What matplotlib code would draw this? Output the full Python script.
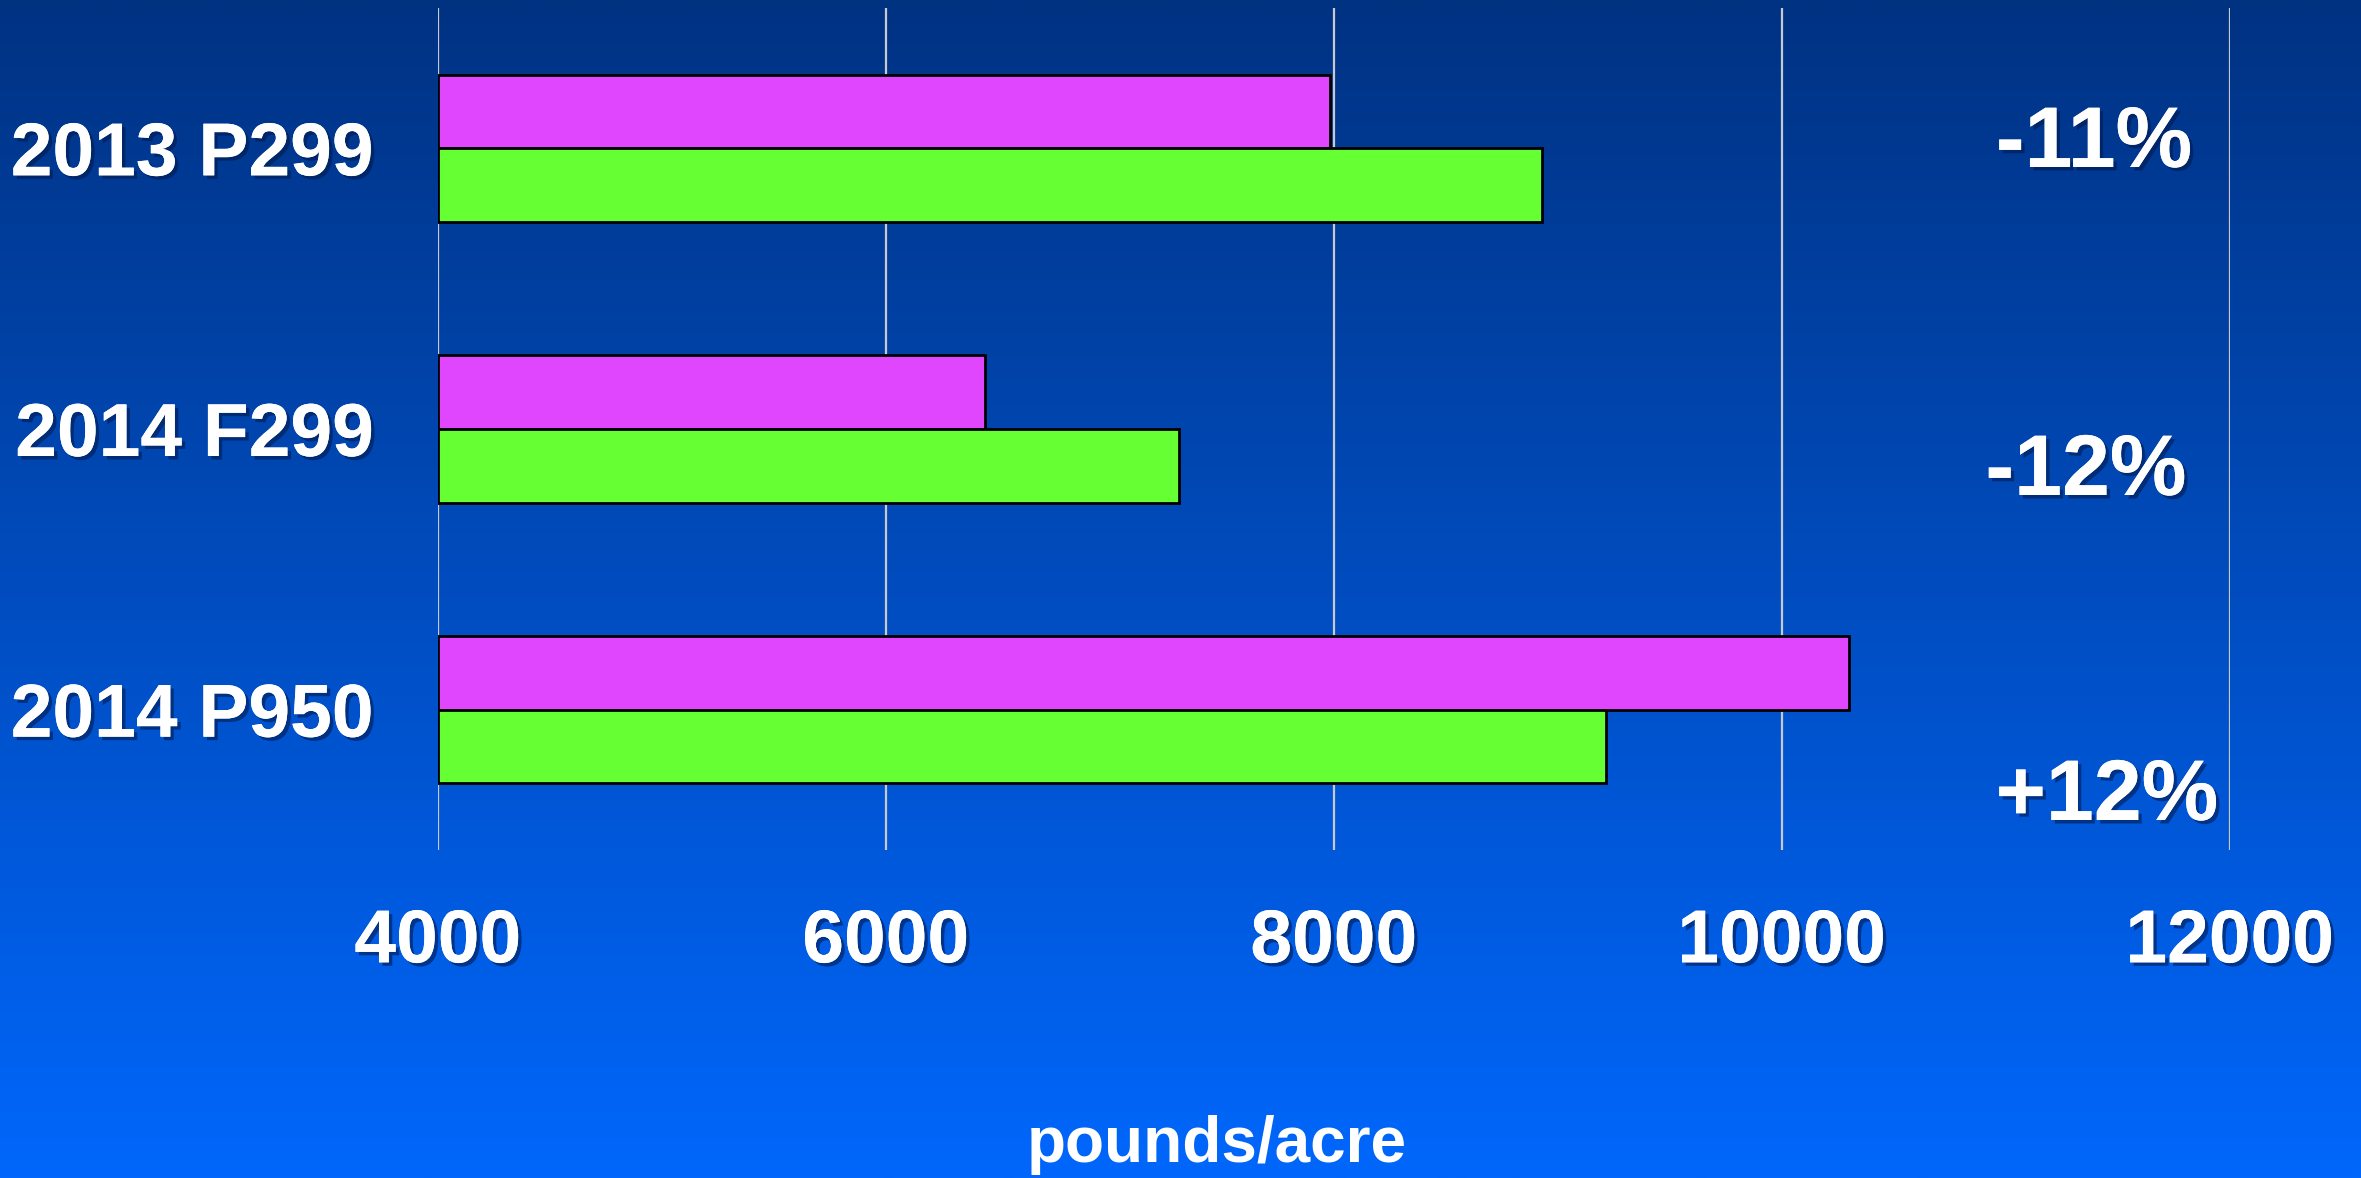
import numpy as np
import matplotlib
matplotlib.use("Agg")
import matplotlib.pyplot as plt
import matplotlib.patheffects as pe

# ---- data ----
categories = ["2013 P299", "2014 F299", "2014 P950"]
series_a = [7980, 6440, 10300]   # magenta
series_b = [8930, 7310, 9215]    # green
changes = ["-11%", "-12%", "+12%"]
xticks = [4000, 6000, 8000, 10000, 12000]
xlabel = "pounds/acre"

W, H = 2361, 1178
fig = plt.figure(figsize=(W / 100, H / 100), dpi=100)

# background gradient
bg = fig.add_axes([0, 0, 1, 1], zorder=-10)
top = np.array([0, 50, 130]) / 255.0
bot = np.array([0, 103, 252]) / 255.0
t = np.linspace(0, 1, 512)[:, None]
grad = (top[None, :] * (1 - t) + bot[None, :] * t)[:, None, :]
bg.imshow(grad, aspect="auto", extent=[0, 1, 0, 1], origin="upper")
bg.set_axis_off()

left, right = 438 / W, 2230 / W
ytop, ybot = 1 - 8 / H, 1 - 850 / H
ax = fig.add_axes([left, ybot, right - left, ytop - ybot])
ax.patch.set_alpha(0)

y = np.arange(len(categories))
h = 0.263
ax.barh(y - h / 2, [a - xticks[0] for a in series_a], left=xticks[0], height=h,
        color="#E146FF", edgecolor="black", linewidth=2, zorder=3)
ax.barh(y + h / 2, [b - xticks[0] for b in series_b], left=xticks[0], height=h,
        color="#66FF33", edgecolor="black", linewidth=2, zorder=3)

ax.set_xlim(xticks[0], xticks[-1])
ax.set_ylim(len(categories) - 0.5, -0.5)
for s in ax.spines.values():
    s.set_visible(False)
ax.set_xticks(xticks)
ax.xaxis.grid(True, color="#C8C8D0", linewidth=1.6, zorder=0)
ax.set_axisbelow(True)

shadow = [pe.withSimplePatchShadow(offset=(2.5, -2.5), shadow_rgbFace="#001a50", alpha=0.6), pe.Normal()]

ax.set_xticklabels([str(v) for v in xticks], fontsize=54, fontweight="bold",
                   color="white", family="Liberation Sans")
ax.set_yticks(y)
ax.set_yticklabels(categories, fontsize=54, fontweight="bold",
                   color="white", family="Liberation Sans")
ax.tick_params(axis="x", length=0, pad=42)
ax.tick_params(axis="y", length=0, pad=46)
for lbl in ax.get_xticklabels() + ax.get_yticklabels():
    lbl.set_path_effects(shadow)

# change annotations (x center, baseline y in pixels)
ch_pos = [(2094, 167), (2086, 495), (2107, 820)]
for txt, (px, py) in zip(changes, ch_pos):
    fig.text(px / W, 1 - py / H, txt, fontsize=62, fontweight="bold", color="white",
             family="Liberation Sans", ha="center", va="baseline", path_effects=shadow)

fig.text(1217 / W, 1 - 1145 / H, xlabel, fontsize=46, fontweight="bold", color="white",
         family="Liberation Sans", ha="center", va="center")

fig.savefig("out.png", dpi=100)
